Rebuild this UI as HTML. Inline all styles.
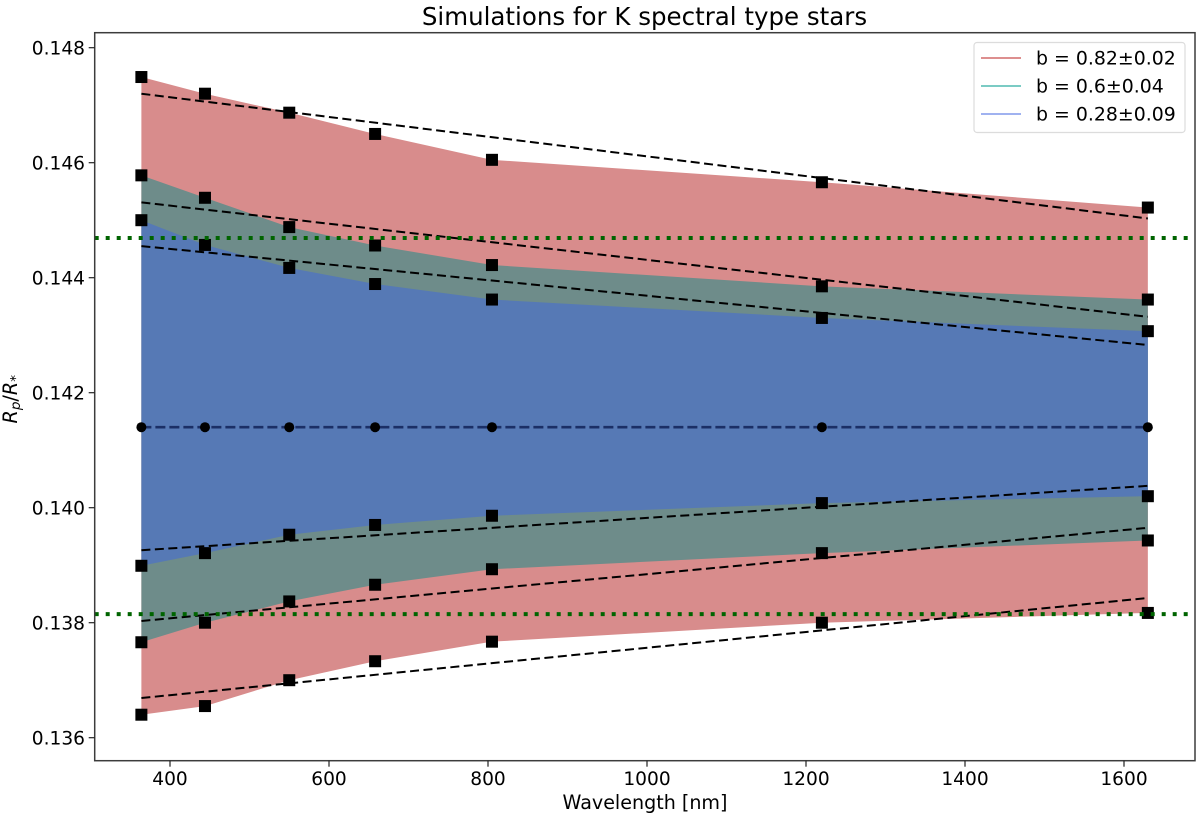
<!DOCTYPE html>
<html>
<head>
<meta charset="utf-8">
<style>
html,body{margin:0;padding:0;background:#fff;width:1200px;height:820px;overflow:hidden}
svg{display:block;font-family:"DejaVu Sans","Liberation Sans",sans-serif}
</style>
</head>
<body>
<svg id="chart" width="1200" height="820" viewBox="0 0 1200 820" xmlns="http://www.w3.org/2000/svg"></svg>
<script>
const wavelengths = [364, 444, 550, 658, 805, 1220, 1630];
const redUpper = [0.14749, 0.14720, 0.14687, 0.14650, 0.14605, 0.14566, 0.14522];
const redLower = [0.13640, 0.13655, 0.13700, 0.13733, 0.13767, 0.13800, 0.13817];
const greenUpper = [0.14578, 0.14539, 0.14488, 0.14456, 0.14422, 0.14385, 0.14362];
const greenLower = [0.13766, 0.13800, 0.13837, 0.13866, 0.13893, 0.13921, 0.13943];
const blueUpper = [0.14500, 0.14457, 0.14417, 0.14389, 0.14362, 0.14330, 0.14307];
const blueLower = [0.13899, 0.13921, 0.13953, 0.13970, 0.13986, 0.14008, 0.14020];
const centerValues = [0.1414, 0.1414, 0.1414, 0.1414, 0.1414, 0.1414, 0.1414];
const fitWavelengths = [364, 1630];
const fitRedUpper = [0.14720, 0.14503];
const fitGreenUpper = [0.14531, 0.14332];
const fitBlueUpper = [0.14455, 0.14283];
const fitBlueLower = [0.13926, 0.14038];
const fitGreenLower = [0.13803, 0.13965];
const fitRedLower = [0.13669, 0.13843];
const limitValues = [0.14469, 0.13815];
const xTicks = [400, 600, 800, 1000, 1200, 1400, 1600];
const yTicks = [0.136, 0.138, 0.140, 0.142, 0.144, 0.146, 0.148];
const legendLabels = ['b = 0.82±0.02', 'b = 0.6±0.04', 'b = 0.28±0.09'];

const svg = document.getElementById('chart');
const NS = 'http://www.w3.org/2000/svg';
const plot = {left: 94.7, right: 1195, top: 32.7, bottom: 760.7};
const xScale = nm => 170 + (nm - 400) * 0.795;
const yScale = v => 392.7 - (v - 0.142) * 57500;

function mk(tag, attrs, parent) {
  const el = document.createElementNS(NS, tag);
  for (const k in attrs) el.setAttribute(k, attrs[k]);
  (parent || svg).appendChild(el);
  return el;
}
function bandPoints(up, lo) {
  const a = wavelengths.map((w, i) => xScale(w) + ',' + yScale(up[i]));
  const b = wavelengths.map((w, i) => xScale(w) + ',' + yScale(lo[i])).reverse();
  return a.concat(b).join(' ');
}

// bands
const redBand = mk('polygon', {points: bandPoints(redUpper, redLower), fill: '#d88c8c'});


const greenBand = mk('polygon', {points: bandPoints(greenUpper, greenLower), fill: '#6e8c8a'});


const blueBand = mk('polygon', {points: bandPoints(blueUpper, blueLower), fill: '#5679b5'});



// fit lines
[fitRedUpper, fitGreenUpper, fitBlueUpper, fitBlueLower, fitGreenLower, fitRedLower].forEach(fit => {
  const line = mk('line', {
    x1: xScale(fitWavelengths[0]), y1: yScale(fit[0]),
    x2: xScale(fitWavelengths[1]), y2: yScale(fit[1]),
    stroke: '#000', 'stroke-width': 2, 'stroke-dasharray': '9 4.5'
  });
  
  
});
const centerLine = mk('polyline', {
  points: wavelengths.map((w, i) => xScale(w) + ',' + yScale(centerValues[i])).join(' '),
  fill: 'none', stroke: '#1b2f66', 'stroke-width': 2.6, 'stroke-dasharray': '10 4'
});



// square markers
[redUpper, greenUpper, blueUpper, blueLower, greenLower, redLower].forEach(series => {
  series.forEach((v, i) => {
    const sq = mk('rect', {x: xScale(wavelengths[i]) - 6, y: yScale(v) - 6, width: 12, height: 12, fill: '#000'});
    
    
  });
});
// circle markers
centerValues.forEach((v, i) => {
  const c = mk('circle', {cx: xScale(wavelengths[i]), cy: yScale(v), r: 5, fill: '#000'});
  
  
});

// dotted limits
limitValues.forEach(v => {
  const l = mk('line', {x1: plot.left, x2: plot.right, y1: yScale(v), y2: yScale(v), stroke: '#006400', 'stroke-width': 4, 'stroke-dasharray': '4 7'});
  
  
});

// frame
const frame = mk('rect', {x: plot.left, y: plot.top, width: plot.right - plot.left, height: plot.bottom - plot.top, fill: 'none', stroke: '#3c3c3c', 'stroke-width': 1.5});



// ticks
xTicks.forEach(t => {
  const x = xScale(t);
  const tick = mk('line', {x1: x, x2: x, y1: plot.bottom, y2: plot.bottom + 6, stroke: '#222', 'stroke-width': 1.2});
  
  
  const lab = mk('text', {x: x, y: 785, 'text-anchor': 'middle', 'font-size': 18.6, fill: '#000'});
  lab.textContent = String(t);
  
  
});
yTicks.forEach(t => {
  const y = yScale(t);
  const tick = mk('line', {x1: plot.left - 6, x2: plot.left, y1: y, y2: y, stroke: '#222', 'stroke-width': 1.2});
  
  
  const lab = mk('text', {x: 85, y: y + 6.8, 'text-anchor': 'end', 'font-size': 18.6, fill: '#000'});
  lab.textContent = t.toFixed(3);
  
  
});

// title & axis labels
const title = mk('text', {x: 644.5, y: 25, 'text-anchor': 'middle', 'font-size': 24.5, fill: '#000'});
title.textContent = 'Simulations for K spectral type stars';



const xTitle = mk('text', {x: 645, y: 809, 'text-anchor': 'middle', 'font-size': 19.1, fill: '#000'});
xTitle.textContent = 'Wavelength [nm]';



const yTitle = mk('text', {transform: 'translate(17,423.5) rotate(-90)', 'font-size': 19.2, 'font-style': 'italic', fill: '#000'});


const t1 = mk('tspan', {}, yTitle); t1.textContent = 'R';
const t2 = mk('tspan', {dy: 3, 'font-size': 13.5}, yTitle); t2.textContent = 'p';
const t3 = mk('tspan', {dy: -3, 'font-style': 'normal'}, yTitle); t3.textContent = '/';
const t4 = mk('tspan', {}, yTitle); t4.textContent = 'R';
const t5 = mk('tspan', {dy: 3, 'font-size': 13.5, 'font-style': 'normal'}, yTitle); t5.textContent = '*';

// legend
const legendBox = mk('rect', {x: 974, y: 42.5, width: 211, height: 90, rx: 3, fill: '#fff', stroke: '#dcdcdc', 'stroke-width': 1.2});


const legendColors = ['#dd8f8f', '#7bcbc4', '#a0b2f0'];
legendLabels.forEach((label, i) => {
  const y = 58 + i * 28;
  const sw = mk('line', {x1: 981, x2: 1021, y1: y, y2: y, stroke: legendColors[i], 'stroke-width': 2});
  
  
  const tx = mk('text', {x: 1036, y: y + 6.5, 'font-size': 18.9, fill: '#000'});
  tx.textContent = label;
  
  
});
</script>
</body>
</html>
